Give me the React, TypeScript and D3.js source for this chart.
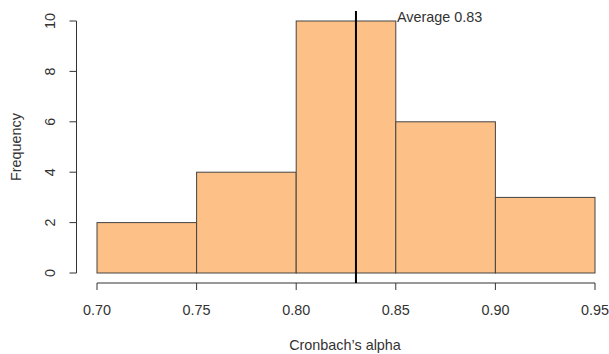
import React from "react";
import * as d3 from "d3";

const binEdges = [0.7, 0.75, 0.8, 0.85, 0.9, 0.95];
const binCounts = [2, 4, 10, 6, 3];
const xTicks = [0.7, 0.75, 0.8, 0.85, 0.9, 0.95];
const yTicks = [0, 2, 4, 6, 8, 10];
const averageValue = 0.83;
const averageLabel = "Average 0.83";

export default function App() {
  const W = 609, H = 354;
  const x = d3.scaleLinear().domain([0.7, 0.95]).range([97, 595]);
  const y = d3.scaleLinear().domain([0, 10]).range([273, 21]);
  const font = "'Liberation Sans', Arial, sans-serif";
  const txt = "#333";
  const axisY = 283;
  const axisX = 76.5;
  const fs = 14.4;
  return (
    <svg width={W} height={H} style={{ position: "absolute", left: 0, top: 0 }} fontFamily={font}>
      <rect width={W} height={H} fill="#fff" />
      {binCounts.map((c, i) => (
        <rect
          key={i}
          x={x(binEdges[i])}
          y={y(c)}
          width={x(binEdges[i + 1]) - x(binEdges[i])}
          height={y(0) - y(c)}
          fill="#FDC086"
          stroke="#444"
          strokeWidth={1}
        />
      ))}
      {/* y axis */}
      <line x1={axisX} x2={axisX} y1={y(0)} y2={y(10)} stroke="#333" />
      {yTicks.map((t) => (
        <g key={t}>
          <line x1={axisX - 7} x2={axisX} y1={y(t)} y2={y(t)} stroke="#333" />
          <text
            transform={`translate(${55},${y(t)}) rotate(-90)`}
            textAnchor="middle"
            fontSize={fs}
            fill={txt}
          >
            {t}
          </text>
        </g>
      ))}
      {/* x axis */}
      <line x1={x(0.7)} x2={x(0.95)} y1={axisY} y2={axisY} stroke="#333" />
      {xTicks.map((t) => (
        <g key={t}>
          <line x1={x(t)} x2={x(t)} y1={axisY} y2={axisY + 7} stroke="#333" />
          <text x={x(t)} y={315} textAnchor="middle" fontSize={fs} fill={txt}>
            {t.toFixed(2)}
          </text>
        </g>
      ))}
      <text x={345} y={350} textAnchor="middle" fontSize={fs} fill={txt}>
        Cronbach’s alpha
      </text>
      <text
        transform={`translate(${21},${147}) rotate(-90)`}
        textAnchor="middle"
        fontSize={fs}
        fill={txt}
      >
        Frequency
      </text>
      {/* average line */}
      <line x1={x(averageValue)} x2={x(averageValue)} y1={11} y2={axisY} stroke="#000" strokeWidth={2} />
      <text x={397} y={22} fontSize={fs} fill={txt}>
        {averageLabel}
      </text>
    </svg>
  );
}
